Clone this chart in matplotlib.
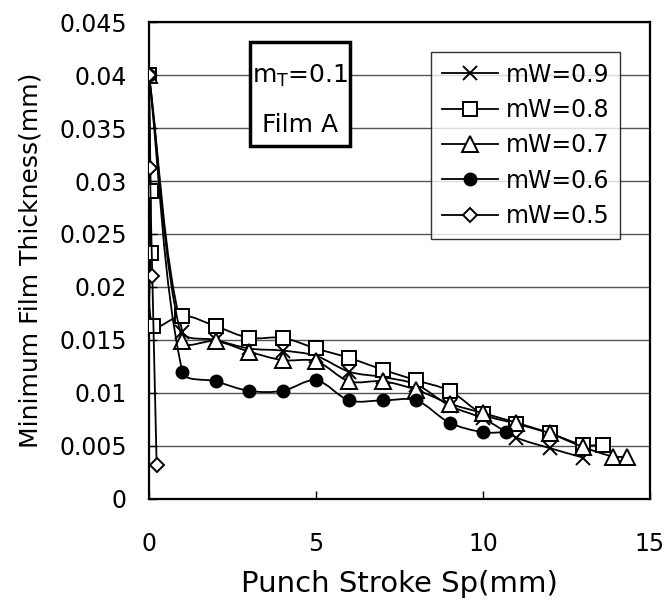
import numpy as np
import matplotlib
matplotlib.use("Agg")
import matplotlib.pyplot as plt
from matplotlib.path import Path
from matplotlib.patches import PathPatch, Rectangle
from matplotlib.lines import Line2D

plt.rcParams['font.family'] = ['DejaVu Sans']

# data
x_09 = [0, 1, 2, 3, 4, 5, 6, 7, 8, 9, 10, 11, 12, 13]
y_09 = [0.04, 0.0158, 0.0150, 0.0142, 0.0140, 0.0135, 0.0120, 0.0115, 0.0108, 0.0088, 0.0076, 0.0058, 0.0048, 0.0039]

x_08 = [0, 0.05, 0.05, 0.13, 1, 2, 3, 4, 5, 6, 7, 8, 9, 10, 11, 12, 13, 13.6]
y_08 = [0.04, 0.0291, 0.0232, 0.0163, 0.0173, 0.0163, 0.0152, 0.0152, 0.0142, 0.0133, 0.0122, 0.0112, 0.0102, 0.0080, 0.0071, 0.0062, 0.0051, 0.0051]

x_07 = [0, 1, 2, 3, 4, 5, 6, 7, 8, 9, 10, 11, 12, 13, 13.9, 14.3]
y_07 = [0.04, 0.0149, 0.0149, 0.0139, 0.0131, 0.0130, 0.0111, 0.0111, 0.0103, 0.0090, 0.0081, 0.0072, 0.0062, 0.0049, 0.0040, 0.0040]

x_06 = [0, 1, 2, 3, 4, 5, 6, 7, 8, 9, 10, 10.7]
y_06 = [0.04, 0.0120, 0.0111, 0.0102, 0.0102, 0.0112, 0.0093, 0.0093, 0.0093, 0.0072, 0.0063, 0.0063]

x_05 = [0, 0.03, 0.1, 0.23]
y_05 = [0.04, 0.0312, 0.0210, 0.0032]

series = [
    ("mW=0.9", x_09, y_09, dict(marker='x', ms=10, mfc='none', mec='black', mew=1.4)),
    ("mW=0.8", x_08, y_08, dict(marker='s', ms=10, mfc='white', mec='black', mew=1.4)),
    ("mW=0.7", x_07, y_07, dict(marker='^', ms=11, mfc='white', mec='black', mew=1.4)),
    ("mW=0.6", x_06, y_06, dict(marker='o', ms=9, mfc='black', mec='black', mew=1.0)),
    ("mW=0.5", x_05, y_05, dict(marker='D', ms=7.5, mfc='white', mec='black', mew=1.4)),
]


def smooth_path(ax, xs, ys):
    # bezier smoothing done in display space, tangents weighted by segment length
    pts = ax.transData.transform(np.column_stack([xs, ys]))
    n = len(pts)
    verts = [pts[0]]
    codes = [Path.MOVETO]
    for i in range(n - 1):
        p0 = pts[max(i - 1, 0)]
        p1 = pts[i]
        p2 = pts[i + 1]
        p3 = pts[min(i + 2, n - 1)]
        d01 = np.hypot(*(p1 - p0))
        d12 = np.hypot(*(p2 - p1))
        d23 = np.hypot(*(p3 - p2))
        a = d12 / (d01 + d12) if d01 + d12 > 0 else 0
        b = d12 / (d12 + d23) if d12 + d23 > 0 else 0
        c1 = p1 + (p2 - p0) * a / 3
        c2 = p2 - (p3 - p1) * b / 3
        verts += [c1, c2, p2]
        codes += [Path.CURVE4] * 3
    verts = ax.transData.inverted().transform(np.array(verts))
    return Path(verts, codes)


fig = plt.figure(figsize=(6.68, 6.03), dpi=100)
ax = fig.add_axes([0.223, 0.1725, 0.750, 0.791])
ax.set_xlim(0, 15)
ax.set_ylim(0, 0.045)

handles = []
for k, (label, xs, ys, st) in enumerate(series):
    patch = PathPatch(smooth_path(ax, xs, ys), fill=False, edgecolor='black', lw=1.3, zorder=3 + k)
    ax.add_patch(patch)
    ax.plot(xs, ys, ls='none', zorder=3.5 + k, **st)
    handles.append(Line2D([], [], color='black', lw=1.3, label=label, **st))

ax.set_xticks([0, 5, 10, 15])
ax.set_yticks(np.arange(0, 0.0451, 0.005))
ax.set_yticklabels(['0', '0.005', '0.01', '0.015', '0.02', '0.025', '0.03', '0.035', '0.04', '0.045'])
ax.yaxis.grid(True, color='#555555', lw=1.0)
ax.set_axisbelow(True)
ax.tick_params(direction='in', labelsize=17, length=6, width=1)
ax.tick_params(axis='y', pad=16)
ax.tick_params(axis='x', pad=24)
for s in ax.spines.values():
    s.set_linewidth(1.6)

ax.set_xlabel("Punch Stroke Sp(mm)", fontsize=21, labelpad=10)
ax.set_ylabel("Minimum Film Thickness(mm)", fontsize=18, labelpad=12)

leg = ax.legend(handles=handles, loc='upper left', bbox_to_anchor=(431 / 668, 1 - 52 / 603),
                bbox_transform=fig.transFigure, fontsize=17, frameon=True, fancybox=False,
                edgecolor='black', handlelength=2.4, handletextpad=0.3, labelspacing=0.48,
                borderpad=0.45, borderaxespad=0)
leg.get_frame().set_linewidth(1.0)
leg.set_zorder(20)

# label box
fig.patches.append(Rectangle((250 / 668, 1 - 146 / 603), 100 / 668, 104 / 603, transform=fig.transFigure,
                             fill=True, facecolor='white', edgecolor='black', lw=2.5, zorder=20))
fig.text(300 / 668, 1 - 76 / 603, "m$_\\mathregular{T}$=0.1", ha='center', va='center', fontsize=18, zorder=21)
fig.text(300 / 668, 1 - 125 / 603, "Film A", ha='center', va='center', fontsize=18, zorder=21)

fig.savefig("out.png", dpi=100)
